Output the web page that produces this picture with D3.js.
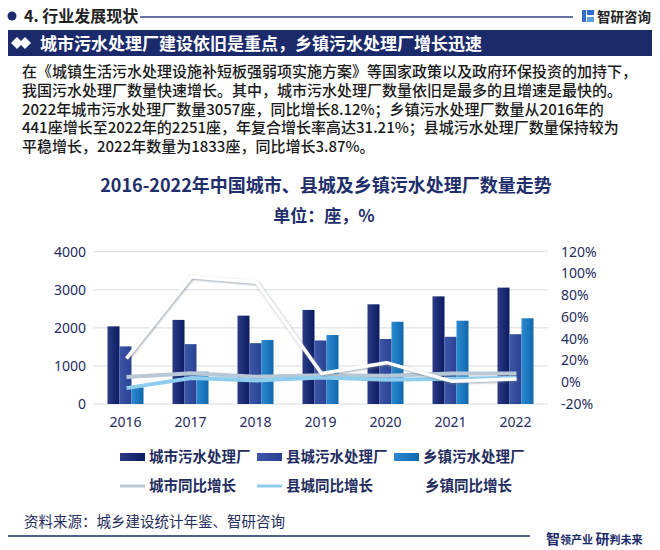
<!DOCTYPE html>
<html><head><meta charset="utf-8">
<script src="https://cdn.jsdelivr.net/npm/d3@7"></script>
<style>
html,body{margin:0;padding:0;background:#fff;}
svg{display:block;font-family:"Noto Sans CJK SC","Noto Sans",sans-serif;}
</style></head>
<body>
<svg id="chart" width="660" height="550"></svg>
<script>
const years = ["2016","2017","2018","2019","2020","2021","2022"];
const cityPlants = [2039, 2209, 2321, 2471, 2618, 2827, 3057];
const countyPlants = [1513, 1572, 1598, 1669, 1708, 1765, 1833];
const townPlants = [441, 848, 1680, 1811, 2160, 2187, 2251];
const cityGrowth = [4.9, 8.3, 5.1, 6.5, 5.9, 8.0, 8.1];
const countyGrowth = [-5.4, 3.9, 1.7, 4.4, 2.3, 3.3, 3.9];
const townGrowth = [22, 97, 92, 8, 18, 1, 3];
const leftTicks = [0, 1000, 2000, 3000, 4000];
const rightTicks = [-20, 0, 20, 40, 60, 80, 100, 120];
const barNames = ["城市污水处理厂", "县城污水处理厂", "乡镇污水处理厂"];
const lineNames = ["城市同比增长", "县城同比增长", "乡镇同比增长"];
const paragraph = [
  "在《城镇生活污水处理设施补短板强弱项实施方案》等国家政策以及政府环保投资的加持下，",
  "我国污水处理厂数量快速增长。其中，城市污水处理厂数量依旧是最多的且增速是最快的。",
  "2022年城市污水处理厂数量3057座，同比增长8.12%；乡镇污水处理厂数量从2016年的",
  "441座增长至2022年的2251座，年复合增长率高达31.21%；县城污水处理厂数量保持较为",
  "平稳增长，2022年数量为1833座，同比增长3.87%。"
];

const svg = d3.select("#chart");
const navy = "#1b2a6b";
const textNavy = "#1f2d5e";

// defs
const defs = svg.append("defs");
function grad(id, c1, c2){
  const g = defs.append("linearGradient").attr("id", id).attr("x1","0").attr("x2","1").attr("y1","0").attr("y2","0");
  g.append("stop").attr("offset","0").attr("stop-color", c1);
  g.append("stop").attr("offset","1").attr("stop-color", c2);
}
grad("gCity", "#2b3c86", "#0b1c62");
grad("gCounty", "#3b56a8", "#2a4292");
grad("gTown", "#2b8ad0", "#1167ad");
const f = defs.append("filter").attr("id","shadow").attr("x","-10%").attr("y","-20%").attr("width","130%").attr("height","150%");
f.append("feDropShadow").attr("dx",0.8).attr("dy",1).attr("stdDeviation",1).attr("flood-color","#6b7a8c").attr("flood-opacity",0.7);

// header
svg.append("circle").attr("cx",12).attr("cy",16).attr("r",4.5).attr("fill",navy);
svg.append("text").attr("x",24).attr("y",22).attr("font-size",16).attr("font-weight",700).attr("fill","#222").text("4. 行业发展现状");
svg.append("line").attr("x1",140).attr("x2",573).attr("y1",17).attr("y2",17).attr("stroke","#3a4680").attr("stroke-width",1.5);
svg.append("rect").attr("x",582).attr("y",10).attr("width",4).attr("height",12).attr("fill","#2f6fd1");
svg.append("rect").attr("x",587).attr("y",10).attr("width",7).attr("height",5).attr("fill","#2f6fd1");
svg.append("rect").attr("x",587).attr("y",17).attr("width",7).attr("height",5).attr("fill","#5aa0e6");
svg.append("text").attr("x",597).attr("y",22).attr("font-size",13.5).attr("font-weight",700).attr("fill","#222").text("智研咨询");

// banner
svg.append("rect").attr("x",8).attr("y",30).attr("width",644).attr("height",26).attr("fill",navy);
[[17,43],[25,43]].forEach(p=>svg.append("path").attr("d",`M${p[0]-6},${p[1]} L${p[0]},${p[1]-6} L${p[0]+6},${p[1]} L${p[0]},${p[1]+6} Z`).attr("fill","#fff"));
svg.append("text").attr("x",40).attr("y",49.5).attr("font-size",17).attr("font-weight",700).attr("fill","#fff").text("城市污水处理厂建设依旧是重点，乡镇污水处理厂增长迅速");

// paragraph (one text block)
const para = svg.append("text").attr("x",22).attr("y",77).attr("font-size",15).attr("font-weight",500).attr("fill","#1a1a1a");
paragraph.forEach((t,i)=>para.append("tspan").attr("x",22).attr("dy", i===0 ? 0 : 18.8).text(t));

// titles
svg.append("text").attr("x",326).attr("y",192).attr("text-anchor","middle").attr("font-size",18).attr("font-weight",700).attr("fill","#1f2f6b").text("2016-2022年中国城市、县城及乡镇污水处理厂数量走势");
svg.append("text").attr("x",324).attr("y",222).attr("text-anchor","middle").attr("font-size",17).attr("font-weight",700).attr("fill","#1f2f6b").text("单位：座，%");

// scales
const x = d3.scaleBand().domain(years).range([93, 548]).padding(0);
const sub = d3.scaleBand().domain([0,1,2]).range([0, 36]).padding(0);
const yL = d3.scaleLinear().domain([0, 4000]).range([404, 251.7]);
const yR = d3.scaleLinear().domain([-20, 120]).range([404, 251.7]);
const cx = y => x(y) + x.bandwidth()/2;

// grid
svg.append("g").selectAll("line").data(leftTicks).join("line")
  .attr("x1",93).attr("x2",548).attr("y1",d=>yL(d)).attr("y2",d=>yL(d))
  .attr("stroke","#d9dde3").attr("stroke-width",1);

// axes
const axL = svg.append("g").attr("transform","translate(86,0)")
  .call(d3.axisLeft(yL).tickValues(leftTicks).tickSize(0).tickPadding(0).tickFormat(d3.format("d")));
axL.select(".domain").remove();
axL.selectAll("text").attr("font-size",14).attr("fill",textNavy).attr("font-family","'Noto Sans','Open Sans',sans-serif");
const axR = svg.append("g").attr("transform","translate(561,0)")
  .call(d3.axisRight(yR).tickValues(rightTicks).tickSize(0).tickPadding(0).tickFormat(d=>d+"%"));
axR.select(".domain").remove();
axR.selectAll("text").attr("font-size",14).attr("fill",textNavy).attr("font-family","'Noto Sans','Open Sans',sans-serif");
const axB = svg.append("g").attr("transform","translate(0,404)")
  .call(d3.axisBottom(x).tickSize(0).tickPadding(13));
axB.select(".domain").remove();
axB.selectAll("text").attr("font-size",14).attr("fill",textNavy).attr("font-family","'Noto Sans','Open Sans',sans-serif");

// bars
const series = [cityPlants, countyPlants, townPlants];
const fills = ["url(#gCity)","url(#gCounty)","url(#gTown)"];
series.forEach((vals, si)=>{
  svg.append("g").selectAll("rect").data(years).join("rect")
    .attr("x", (d)=> cx(d) - 18 + sub(si))
    .attr("width", sub.bandwidth())
    .attr("y", (d,i)=> yL(vals[i]))
    .attr("height", (d,i)=> yL(0) - yL(vals[i]))
    .attr("fill", fills[si]);
});

// lines
const lineGen = vals => d3.line().x((d)=>cx(d)+1).y((d,i)=>yR(vals[i]))(years);
svg.append("path").attr("d", lineGen(cityGrowth)).attr("fill","none").attr("stroke","#b8c8d6").attr("stroke-width",4).attr("stroke-linejoin","round");
svg.append("path").attr("d", lineGen(countyGrowth)).attr("fill","none").attr("stroke","#8ecdee").attr("stroke-width",4).attr("stroke-linejoin","round");
svg.append("path").attr("d", lineGen(townGrowth)).attr("fill","none").attr("stroke","#ffffff").attr("stroke-width",3.5).attr("stroke-linejoin","round").attr("filter","url(#shadow)");

// legend
const legX = [120, 257, 394];
barNames.forEach((n,i)=>{
  svg.append("rect").attr("x",legX[i]).attr("y",453).attr("width",25).attr("height",8).attr("fill",fills[i]);
  svg.append("text").attr("x",legX[i]+29).attr("y",462).attr("font-size",14.5).attr("font-weight",600).attr("fill",textNavy).text(n);
});
const lineCols = ["#b8c8d6","#8ecdee","#ffffff"];
lineNames.forEach((n,i)=>{
  svg.append("line").attr("x1",legX[i]).attr("x2",legX[i]+25).attr("y1",486).attr("y2",486).attr("stroke",lineCols[i]).attr("stroke-width",3);
  svg.append("text").attr("x",legX[i]+29+(i==2?2:0)).attr("y",491).attr("font-size",14.5).attr("font-weight",600).attr("fill",textNavy).text(n);
});

// footer
svg.append("text").attr("x",24).attr("y",527).attr("font-size",14.5).attr("fill","#1f2d5e").text("资料来源：城乡建设统计年鉴、智研咨询");
svg.append("line").attr("x1",8).attr("x2",530).attr("y1",536).attr("y2",536).attr("stroke",navy).attr("stroke-width",1.5);
const ft = svg.append("text").attr("x",546).attr("y",544).attr("font-weight",700).attr("fill",navy);
ft.append("tspan").attr("font-size",14).text("智");
ft.append("tspan").attr("font-size",11).text("领产业 ");
ft.append("tspan").attr("font-size",14).text("研");
ft.append("tspan").attr("font-size",11).text("判未来");
</script>
</body></html>
